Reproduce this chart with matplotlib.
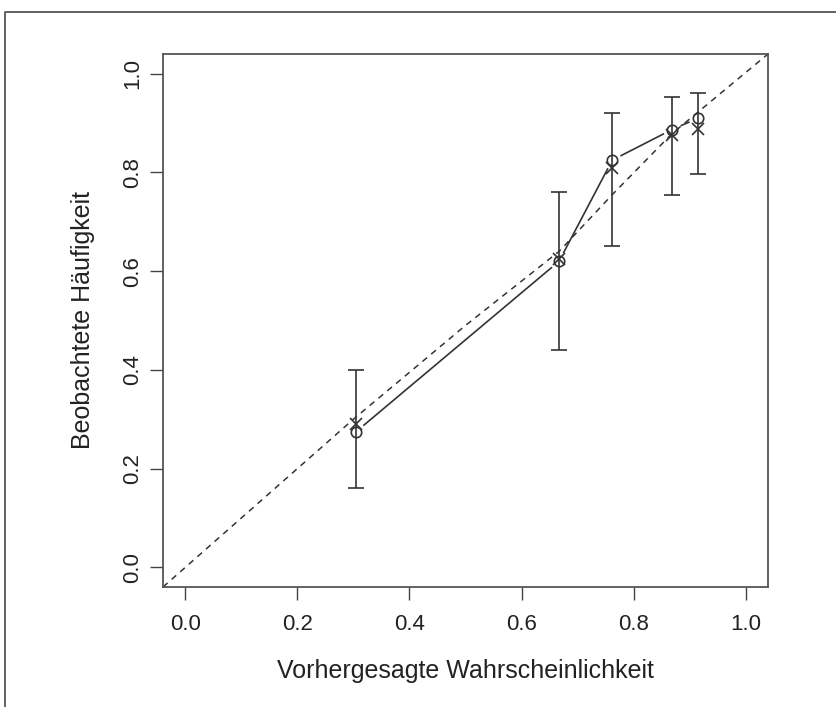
import numpy as np
import matplotlib
matplotlib.use("Agg")
import matplotlib.pyplot as plt
from matplotlib.lines import Line2D

plt.rcParams['font.family'] = ['Liberation Sans', 'DejaVu Sans']

# predicted probability (bin means)
pred = [0.305, 0.667, 0.762, 0.869, 0.915]
# observed frequency (circles)
obs = [0.275, 0.620, 0.825, 0.887, 0.910]
# model-based expected (crosses)
expct = [0.290, 0.625, 0.808, 0.875, 0.888]
# confidence limits
lo = [0.160, 0.440, 0.650, 0.755, 0.797]
hi = [0.400, 0.760, 0.920, 0.952, 0.960]
# reference (dashed) curve
ref_x = [-0.04, 0.30, 0.50, 0.667, 0.762, 0.869, 1.04]
ref_y = [-0.04, 0.30, 0.49, 0.640, 0.755, 0.879, 1.04]

col = "#333333"
fig = plt.figure(figsize=(8.37, 7.07), dpi=100)
ax = fig.add_axes([163/837, 1-587/707, 605/837, 533/707])
ax.set_xlim(-0.04, 1.04)
ax.set_ylim(-0.04, 1.04)

ax.plot(ref_x, ref_y, ls=(0, (4, 3.5)), color=col, lw=1.1)

# error bars
mid = [(a + b) / 2 for a, b in zip(lo, hi)]
ax.errorbar(pred, mid,
            yerr=[[m - a for m, a in zip(mid, lo)], [b - m for m, b in zip(mid, hi)]],
            fmt='none', ecolor=col, elinewidth=1.2, capsize=5.5, capthick=1.2)

ax.plot(pred, obs, 'o', mfc='none', mec=col, ms=7.5, mew=1.2)
ax.plot(pred, expct, 'x', color=col, ms=9, mew=1.2)

# R type="b": segments with gaps around points
fig.canvas.draw()
tr = ax.transData
pts = tr.transform(np.column_stack([pred, obs]))
gap = 10
for p0, p1 in zip(pts[:-1], pts[1:]):
    d = p1 - p0
    L = np.hypot(*d)
    if L <= 2 * gap:
        continue
    u = d / L
    a = tr.inverted().transform(p0 + u * gap)
    b = tr.inverted().transform(p1 - u * gap)
    ax.plot([a[0], b[0]], [a[1], b[1]], color=col, lw=1.2)

ticks = [0.0, 0.2, 0.4, 0.6, 0.8, 1.0]
ax.set_xticks(ticks)
ax.set_yticks(ticks)
ax.set_xticklabels([f"{t:.1f}" for t in ticks])
ax.set_yticklabels([f"{t:.1f}" for t in ticks], rotation=90, va='center')
ax.tick_params(direction='out', length=9.5, width=1.0, color='#444444',
               labelsize=16, labelcolor='#222222')
ax.tick_params(axis='x', pad=10)
ax.tick_params(axis='y', pad=5)
for s in ax.spines.values():
    s.set_color('#555555')
    s.set_linewidth(1.3)

fig.text((163+768)/2/837, 1-671/707, "Vorhergesagte Wahrscheinlichkeit",
         ha='center', va='center', fontsize=18, color='#222222')
fig.text(83/837, 1-320/707, "Beobachtete Häufigkeit", rotation=90,
         ha='center', va='center', fontsize=18, color='#222222')

# outer frame
fig.add_artist(Line2D([5/837, 5/837, 1.0], [0.0, 1-12/707, 1-12/707],
                      transform=fig.transFigure, color='#555555', lw=1.3))

fig.savefig("out.png", dpi=100)
